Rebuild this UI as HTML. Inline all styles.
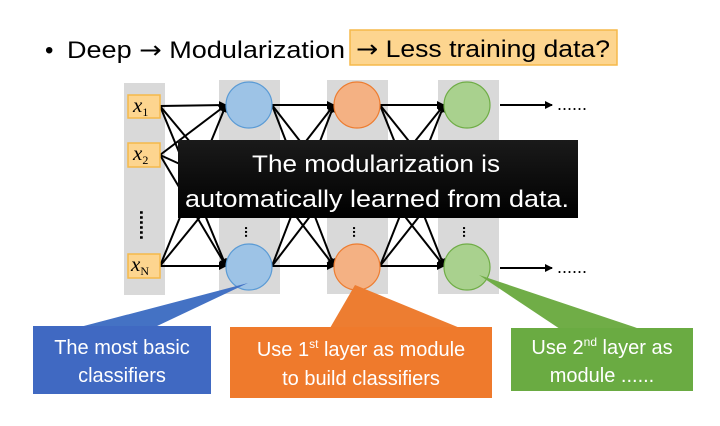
<!DOCTYPE html>
<html><head><meta charset="utf-8"><style>
body{margin:0;width:720px;height:421px;background:#fff;overflow:hidden;font-family:"Liberation Sans",sans-serif}
</style></head><body>
<svg width="720" height="421" xmlns="http://www.w3.org/2000/svg" font-family="Liberation Sans, sans-serif">
<defs>
<marker id="a" markerWidth="8" markerHeight="8" refX="7" refY="4" orient="auto" markerUnits="userSpaceOnUse"><path d="M0,0 L8,4 L0,8 z" fill="#000"/></marker>
<linearGradient id="bk" x1="0" y1="0" x2="0" y2="1"><stop offset="0" stop-color="#1a1a1a"/><stop offset="1" stop-color="#000"/></linearGradient>
</defs>
<!-- title -->
<text x="45" y="58" font-size="24" fill="#000">•</text>
<text x="67" y="58" font-size="24" fill="#000" textLength="278" lengthAdjust="spacingAndGlyphs">Deep <tspan font-family="DejaVu Sans, sans-serif">→</tspan> Modularization</text>
<rect x="350" y="30" width="267" height="35" fill="#fdd58f" stroke="#f5b94a" stroke-width="1.5"/>
<text x="356" y="57" font-size="24" fill="#000" textLength="254" lengthAdjust="spacingAndGlyphs"><tspan font-family="DejaVu Sans, sans-serif">→</tspan> Less training data?</text>
<!-- gray columns -->
<rect x="124" y="83" width="41" height="212" fill="#d9d9d9"/>
<rect x="219" y="80" width="61" height="214" fill="#d9d9d9"/>
<rect x="327" y="80" width="61" height="214" fill="#d9d9d9"/>
<rect x="438" y="80" width="61" height="214" fill="#d9d9d9"/>
<g stroke="#000" stroke-width="2" fill="none" marker-end="url(#a)">
<line x1="160" y1="106" x2="226" y2="105"/><line x1="160" y1="106" x2="226" y2="185"/><line x1="160" y1="106" x2="226" y2="266"/>
<line x1="160" y1="155" x2="226" y2="105"/><line x1="160" y1="155" x2="226" y2="185"/><line x1="160" y1="155" x2="226" y2="266"/>
<line x1="160" y1="266" x2="226" y2="105"/><line x1="160" y1="266" x2="226" y2="185"/><line x1="160" y1="266" x2="226" y2="266"/>
<line x1="272" y1="105" x2="334" y2="105"/><line x1="272" y1="105" x2="334" y2="185"/><line x1="272" y1="105" x2="334" y2="266"/>
<line x1="272" y1="185" x2="334" y2="105"/><line x1="272" y1="185" x2="334" y2="266"/>
<line x1="272" y1="266" x2="334" y2="105"/><line x1="272" y1="266" x2="334" y2="185"/><line x1="272" y1="266" x2="334" y2="266"/>
<line x1="380" y1="105" x2="444" y2="105"/><line x1="380" y1="105" x2="444" y2="185"/><line x1="380" y1="105" x2="444" y2="266"/>
<line x1="380" y1="185" x2="444" y2="105"/><line x1="380" y1="185" x2="444" y2="266"/>
<line x1="380" y1="266" x2="444" y2="105"/><line x1="380" y1="266" x2="444" y2="185"/><line x1="380" y1="266" x2="444" y2="266"/>
<line x1="500" y1="105" x2="552" y2="105"/><line x1="500" y1="185" x2="552" y2="185"/><line x1="500" y1="268" x2="552" y2="268"/>
</g>
<text x="557" y="110" font-size="18">......</text>
<text x="557" y="273" font-size="18">......</text>
<g fill="#fdd58f" stroke="#f5b94a" stroke-width="1.5">
<rect x="128" y="95" width="32" height="23"/><rect x="128" y="143" width="32" height="24"/><rect x="128" y="254" width="32" height="24"/>
</g>
<g font-family="Liberation Serif, serif" font-style="italic" font-size="21">
<text x="133" y="112">x<tspan font-size="12" font-style="normal" dy="4">1</tspan></text>
<text x="133" y="160">x<tspan font-size="12" font-style="normal" dy="4">2</tspan></text>
<text x="131" y="271">x<tspan font-size="12" font-style="normal" dy="4">N</tspan></text>
</g>
<text x="140" y="225" font-size="18" font-weight="bold" transform="rotate(90 140 225)" text-anchor="middle">......</text>
<g font-size="14" font-weight="bold" text-anchor="middle">
<text x="249" y="236" transform="rotate(90 249 232)">...</text>
<text x="357" y="236" transform="rotate(90 357 232)">...</text>
<text x="467" y="236" transform="rotate(90 467 232)">...</text>
</g>
<g stroke-width="1.2">
<circle cx="249" cy="105" r="23" fill="#9dc3e6" stroke="#5b9bd5"/><circle cx="249" cy="267" r="23" fill="#9dc3e6" stroke="#5b9bd5"/>
<circle cx="357" cy="105" r="23" fill="#f4b183" stroke="#ed7d31"/><circle cx="357" cy="267" r="23" fill="#f4b183" stroke="#ed7d31"/>
<circle cx="467" cy="105" r="23" fill="#a9d18e" stroke="#70ad47"/><circle cx="467" cy="267" r="23" fill="#a9d18e" stroke="#70ad47"/>
</g>
<rect x="178" y="140" width="400" height="78" fill="url(#bk)"/>
<text x="376" y="172" font-size="24" fill="#fff" text-anchor="middle" textLength="248" lengthAdjust="spacingAndGlyphs">The modularization is</text>
<text x="377" y="207" font-size="24" fill="#fff" text-anchor="middle" textLength="384" lengthAdjust="spacingAndGlyphs">automatically learned from data.</text>
<polygon points="248,283 80,327 155,327" fill="#4472c4"/>
<rect x="33" y="326" width="178" height="68" fill="#4069c2"/>
<text x="122" y="354" font-size="20" fill="#fff" text-anchor="middle">The most basic</text>
<text x="122" y="382" font-size="20" fill="#fff" text-anchor="middle">classifiers</text>
<polygon points="355,285 330,328 460,328" fill="#ed7d31"/>
<rect x="230" y="327" width="262" height="71" fill="#ef7a2c"/>
<text x="361" y="356" font-size="20" fill="#fff" text-anchor="middle">Use 1<tspan font-size="12" dy="-8">st</tspan><tspan dy="8"> layer as module</tspan></text>
<text x="361" y="385" font-size="20" fill="#fff" text-anchor="middle">to build classifiers</text>
<polygon points="479,275 560,329 640,329" fill="#70ad47"/>
<rect x="511" y="328" width="182" height="63" fill="#6aab42"/>
<text x="602" y="354" font-size="20" fill="#fff" text-anchor="middle">Use 2<tspan font-size="12" dy="-8">nd</tspan><tspan dy="8"> layer as</tspan></text>
<text x="602" y="382" font-size="20" fill="#fff" text-anchor="middle">module ......</text>
</svg>
</body></html>
